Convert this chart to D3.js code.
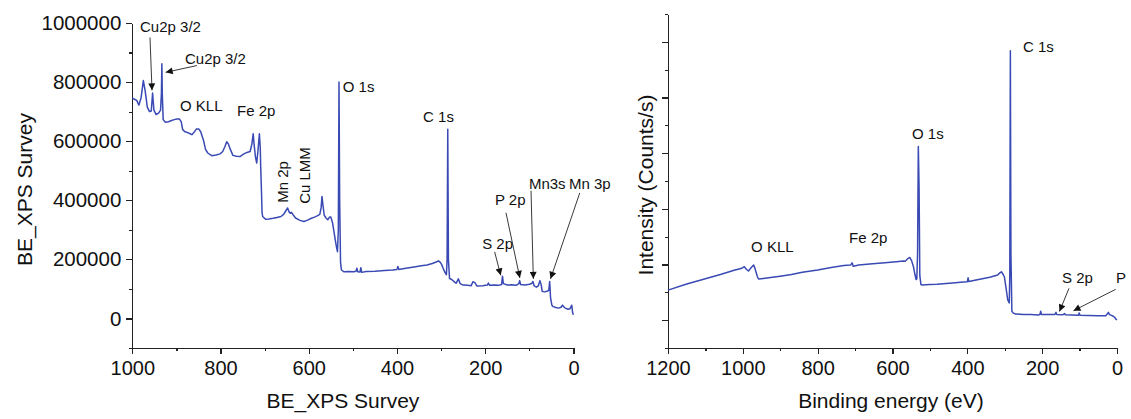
<!DOCTYPE html>
<html>
<head>
<meta charset="utf-8">
<script src="https://cdn.jsdelivr.net/npm/d3@7/dist/d3.min.js"></script>
<style>
  html, body { margin: 0; padding: 0; background: #fff; }
  svg { display: block; font-family: "Liberation Sans", Arial, sans-serif; }
  .axis path, .axis line { stroke: #222; stroke-width: 1.2; shape-rendering: crispEdges; }
  .axis text { fill: #111; font-size: 20px; font-family: "Liberation Sans", Arial, sans-serif; }
  .ylab text { font-size: 20.5px; }
  .title { fill: #111; font-size: 21px; }
  .note { fill: #111; font-size: 15px; }
  .arrow { stroke: #222; stroke-width: 0.9; fill: none; }
  .trace { fill: none; stroke: #3a4ab4; stroke-width: 1.5; stroke-linejoin: round; }
</style>
</head>
<body>
<svg id="chart" width="1131" height="419"></svg>
<script>
// ---- Survey spectrum (left panel): binding energy (eV) and counts ----
const surveyBE = [
  1000, 995, 990, 985, 980, 975, 971, 966, 961, 957, 954, 951, 946, 940, 936, 934, 933, 932, 930, 925,
  918, 911, 905, 899, 893, 889, 886, 881, 876, 870, 865, 860, 855, 849, 845, 839, 834, 829, 820, 810,
  801, 795, 790, 786, 782, 778, 772, 764, 756, 748, 740, 733, 729, 726, 724, 721, 718, 715, 712, 710,
  709, 707, 706, 704.5, 698, 690, 681, 672, 663, 657, 653, 648, 645, 642, 639, 636, 630, 620, 611, 603,
  594, 587, 581, 575, 572, 570, 568, 565, 561, 557, 553, 550, 546, 543, 540, 537, 535, 533, 531.5, 530,
  528, 526, 520, 510, 498, 493, 491, 489, 484, 482, 480, 470, 450, 428, 410, 400, 398, 396, 380, 358,
  345, 332, 320, 310, 306, 302, 299, 295, 291, 288, 286.5, 285, 283.5, 281, 276, 270, 266, 261, 257, 250,
  240, 232, 228, 224, 219, 205, 200, 195, 193, 190, 180, 170, 163, 161, 159, 150, 140, 130, 124, 122,
  120, 110, 100, 95, 92, 89, 84, 80, 76, 73, 71, 66, 60, 56, 54, 52, 49, 46, 40, 34,
  28, 25, 22, 19, 12, 8, 5, 4, 2, 0.5
];
const surveyCounts = [
  746000, 742000, 738000, 722000, 748000, 805000, 772000, 715000, 700000, 702000, 763000, 705000, 690000, 696000, 705000, 760000, 862000, 760000, 673000, 664000,
  666000, 670000, 673000, 675000, 675000, 665000, 640000, 632000, 630000, 626000, 622000, 630000, 641000, 641000, 632000, 605000, 572000, 560000, 551000, 553000,
  557000, 565000, 582000, 598000, 590000, 573000, 552000, 549000, 548000, 556000, 562000, 565000, 590000, 625000, 590000, 548000, 526000, 570000, 625000, 580000,
  514000, 420000, 360000, 345000, 336000, 337000, 339000, 342000, 345000, 352000, 362000, 374000, 362000, 356000, 359000, 352000, 340000, 332000, 328000, 333000,
  339000, 343000, 347000, 352000, 375000, 413000, 385000, 350000, 340000, 334000, 343000, 343000, 323000, 295000, 266000, 240000, 226000, 300000, 800000, 400000,
  190000, 164000, 158000, 159000, 158000, 160000, 170000, 158000, 157000, 172000, 156000, 159000, 160000, 162000, 164000, 166000, 176000, 166000, 170000, 175000,
  178000, 181000, 186000, 192000, 195000, 190000, 183000, 168000, 155000, 148000, 200000, 640000, 200000, 135000, 132000, 124000, 119000, 134000, 118000, 113000,
  112000, 111000, 124000, 122000, 110000, 111000, 112000, 113000, 120000, 112000, 113000, 112000, 115000, 143000, 118000, 113000, 114000, 112000, 118000, 128000,
  115000, 113000, 116000, 118000, 125000, 110000, 106000, 110000, 128000, 112000, 92000, 90000, 92000, 95000, 125000, 70000, 45000, 40000, 37000, 35000,
  38000, 45000, 40000, 35000, 31000, 33000, 42000, 45000, 20000, 12000
];

// ---- Wide scan (right panel): binding energy (eV) and intensity (counts/s) ----
const scanBE = [
  1200, 1150, 1112, 1060, 1021, 1010, 1003, 996, 990, 985, 978, 971, 968, 965, 961, 958, 945, 931, 900, 870,
  841, 800, 760, 751, 730, 712, 708, 705, 690, 661, 620, 590, 571, 566, 560, 554, 549, 544, 540, 537,
  535, 533, 531, 529, 527, 524, 521, 500, 481, 440, 410, 400, 398, 396, 370, 340, 319, 313, 309, 305,
  301, 297, 292, 288, 286.5, 285, 283.5, 281, 277, 271, 250, 230, 211, 206, 204, 202, 180, 166, 163, 161,
  145, 140, 138, 121, 103, 101, 99, 76, 50, 30, 26, 23, 20, 16, 10, 6, 3, 0
];
const scanCounts = [
  27000, 32500, 36100, 41000, 45000, 46000, 46600, 48000, 45500, 44200, 47000, 49500, 47000, 43500, 39000, 37000, 37500, 38100, 39500, 41000,
  43000, 45000, 47500, 48000, 49000, 49500, 51500, 48500, 49500, 50400, 51500, 52500, 53100, 53000, 55000, 56300, 53500, 48000, 41000, 36500,
  37000, 60000, 156000, 120000, 40000, 32000, 31600, 32000, 32200, 33400, 34300, 34600, 38000, 34700, 36500, 38500, 40600, 42500, 43500, 41500,
  39000, 30000, 18100, 15500, 40000, 242000, 60000, 8000, 6300, 5600, 5200, 5000, 4700, 5000, 8000, 5200, 5000, 5200, 7000, 5000,
  4800, 6000, 4800, 4600, 4500, 6500, 4500, 4200, 4000, 4000, 5500, 7000, 5000, 4500, 3500, 2500, 1000, 150
];

// ---- Axis ticks ----
const surveyXTicks = [1000, 800, 600, 400, 200, 0];
const surveyXMinor = [900, 700, 500, 300, 100];
const surveyYTicks = [0, 200000, 400000, 600000, 800000, 1000000];
const surveyYMinor = [-100000, 100000, 300000, 500000, 700000, 900000];
const scanXTicks = [1200, 1000, 800, 600, 400, 200, 0];
const scanXMinor = [1100, 900, 700, 500, 300, 100];
const scanYTicks = [0, 50000, 100000, 150000, 200000, 250000];
const scanYMinor = [-25000, 25000, 75000, 125000, 175000, 225000, 275000];

// ---- Peak labels: text anchor (BE, counts), optional arrow from/to (BE, counts) ----
const surveyNotes = [
  { text: "Cu2p 3/2", at: [982.5, 968000], arrow: [[959.9, 951000], [955.3, 772000]] },
  { text: "Cu2p 3/2", at: [880.6, 862800], arrow: [[853.4, 856000], [924.3, 833000]] },
  { text: "O KLL", at: [891.9, 703000] },
  { text: "Fe 2p", at: [762.7, 686500] },
  { text: "Mn 2p", at: [647, 391500], vertical: true },
  { text: "Cu LMM", at: [597, 388000], vertical: true },
  { text: "O 1s", at: [523, 768000] },
  { text: "C 1s", at: [341, 666000] },
  { text: "S 2p", at: [207, 235600], arrow: [[178.7, 225400], [165, 146000]] },
  { text: "P 2p", at: [178, 384700], arrow: [[153, 357600], [121.6, 137300]] },
  { text: "Mn3s", at: [101, 439000], arrow: [[96.3, 432200], [91, 134000]] },
  { text: "Mn 3p", at: [10.2, 439000], arrow: [[-14.2, 425000], [52.1, 134000]] }
];
const scanNotes = [
  { text: "C 1s", at: [251.2, 240900] },
  { text: "O 1s", at: [547.9, 162700] },
  { text: "O KLL", at: [978, 61200] },
  { text: "Fe 2p", at: [716.3, 69300] },
  { text: "S 2p", at: [147, 33400], arrow: [[128.3, 28600], [153.7, 7800]] },
  { text: "P", at: [2.7, 33400], arrow: [[3.5, 27700], [116.3, 8500]] }
];

const svg = d3.select("#chart");

// arrowhead used by the peak pointers
svg.append("defs").append("marker")
  .attr("id", "head")
  .attr("viewBox", "0 0 10 10")
  .attr("refX", 10).attr("refY", 5)
  .attr("markerUnits", "userSpaceOnUse")
  .attr("markerWidth", 9).attr("markerHeight", 7)
  .attr("orient", "auto")
  .append("path")
  .attr("d", "M0,0 L10,5 L0,10 Z")
  .attr("fill", "#111");

function panel(opts) {
  const { x, y, xTicks, xMinor, yTicks, yMinor, yLabels, be, counts, notes, xTitle, yTitle, xTitleX, yTitleX } = opts;
  const [x0, x1] = x.range();
  const [yb, yt] = y.range();
  const g = svg.append("g");

  // x axis (major + minor)
  g.append("g").attr("class", "axis")
    .attr("transform", `translate(0,${yb})`)
    .call(d3.axisBottom(x).tickValues(xTicks).tickSize(6).tickSizeOuter(0).tickPadding(7).tickFormat(d3.format("d")));
  g.append("g").attr("class", "axis")
    .attr("transform", `translate(0,${yb})`)
    .call(d3.axisBottom(x).tickValues(xMinor).tickSize(3).tickSizeOuter(0).tickFormat(""))
    .select(".domain").remove();

  // y axis (major + minor)
  g.append("g").attr("class", "axis ylab")
    .attr("transform", `translate(${x0},0)`)
    .call(d3.axisLeft(y).tickValues(yTicks).tickSize(6).tickSizeOuter(0).tickPadding(5)
      .tickFormat(yLabels ? d3.format("d") : ""));
  g.append("g").attr("class", "axis")
    .attr("transform", `translate(${x0},0)`)
    .call(d3.axisLeft(y).tickValues(yMinor).tickSize(3).tickSizeOuter(0).tickFormat(""))
    .select(".domain").remove();

  // spectrum
  const pts = be.map((b, i) => [b, counts[i]]);
  g.append("path")
    .attr("class", "trace")
    .attr("d", d3.line().x(d => x(d[0])).y(d => y(d[1]))(pts));

  // peak labels
  notes.forEach(n => {
    const tx = x(n.at[0]), ty = y(n.at[1]);
    const t = g.append("text").attr("class", "note").text(n.text);
    if (n.vertical) {
      t.attr("transform", `translate(${tx},${ty}) rotate(-90)`);
    } else {
      t.attr("x", tx).attr("y", ty);
    }
    if (n.arrow) {
      g.append("line").attr("class", "arrow")
        .attr("x1", x(n.arrow[0][0])).attr("y1", y(n.arrow[0][1]))
        .attr("x2", x(n.arrow[1][0])).attr("y2", y(n.arrow[1][1]))
        .attr("marker-end", "url(#head)");
    }
  });

  // axis titles
  g.append("text").attr("class", "title")
    .attr("x", (x0 + x1) / 2 + (xTitleX || 0)).attr("y", 408)
    .attr("text-anchor", "middle").text(xTitle);
  g.append("text").attr("class", "title")
    .attr("transform", `translate(${yTitleX},${(yb + yt) / 2 + 4}) rotate(-90)`)
    .attr("text-anchor", "middle").text(yTitle);
}

// Left: survey in raw counts
panel({
  x: d3.scaleLinear().domain([1000, 0]).range([132.3, 573.5]),
  y: d3.scaleLinear().domain([-100000, 1000000]).range([348, 23]),
  xTicks: surveyXTicks, xMinor: surveyXMinor,
  yTicks: surveyYTicks, yMinor: surveyYMinor, yLabels: true,
  be: surveyBE, counts: surveyCounts, notes: surveyNotes,
  xTitle: "BE_XPS Survey", yTitle: "BE_XPS Survey", yTitleX: 32, xTitleX: -10
});

// Right: wide scan, intensity axis without values
panel({
  x: d3.scaleLinear().domain([1200, 0]).range([668, 1117]),
  y: d3.scaleLinear().domain([-25000, 275000]).range([348, 14]),
  xTicks: scanXTicks, xMinor: scanXMinor,
  yTicks: scanYTicks, yMinor: scanYMinor, yLabels: false,
  be: scanBE, counts: scanCounts, notes: scanNotes,
  xTitle: "Binding energy (eV)", yTitle: "Intensity (Counts/s)", yTitleX: 653, xTitleX: -1.5
});
</script>
</body>
</html>
